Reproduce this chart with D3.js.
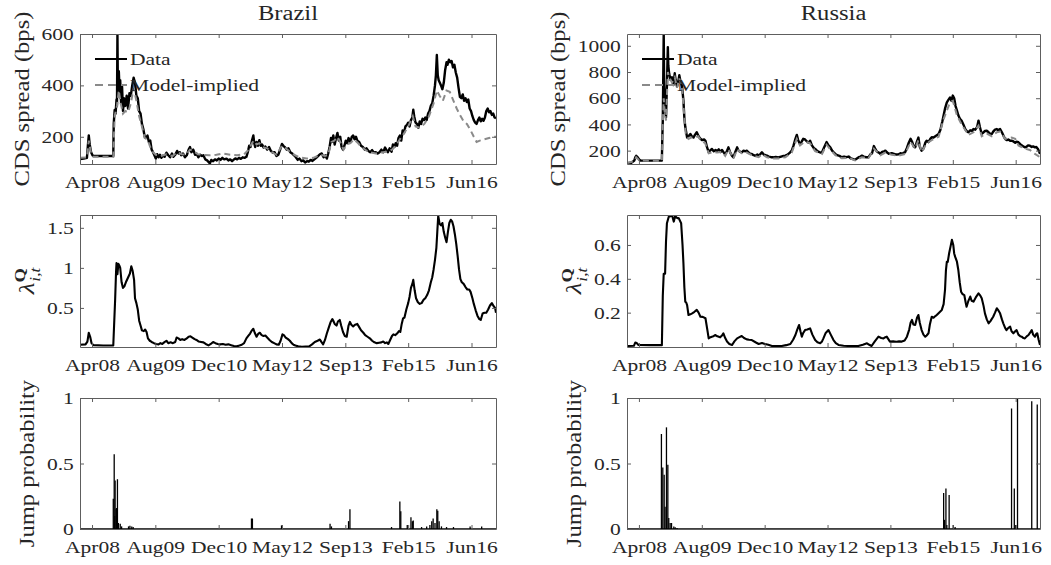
<!DOCTYPE html>
<html>
<head>
<meta charset="utf-8">
<script src="https://cdnjs.cloudflare.com/ajax/libs/d3/7.8.5/d3.min.js"></script>
<style>
body { margin: 0; background: #fff; }
text { font-family: "Liberation Serif", "Times New Roman", serif; fill: #262626; }
</style>
</head>
<body>
<div id="chart"></div>
<script>
// data: [decimal year, value]
const countries = ["Brazil", "Russia"];
const tickYears = [2008.26, 2009.63, 2011.0, 2012.37, 2013.74, 2015.10, 2016.47];
const tickLabels = ["Apr08", "Aug09", "Dec10", "May12", "Sep13", "Feb15", "Jun16"];

const brazilCds = [[2008.00,113],[2008.08,115],[2008.15,118],[2008.17,165],[2008.19,205],[2008.21,170],[2008.24,140],[2008.27,128],[2008.29,125],[2008.72,125],
  [2008.73,250],[2008.75,304],[2008.77,290],[2008.79,345],[2008.80,320],[2008.81,600],[2008.82,380],[2008.84,455],[2008.86,360],[2008.87,420],
  [2008.89,330],[2008.91,395],[2008.93,300],[2008.95,350],[2008.98,320],[2009.01,360],[2009.04,310],[2009.07,370],[2009.10,360],[2009.13,400],
  [2009.16,430],[2009.19,410],[2009.22,360],[2009.25,350],[2009.28,300],[2009.31,290],[2009.34,250],[2009.37,230],[2009.40,200],[2009.43,195],
  [2009.46,205],[2009.49,180],[2009.52,185],[2009.55,150],[2009.58,140],[2009.61,128],[2009.64,115],[2009.67,132],[2009.70,120],[2009.73,130],
  [2009.76,118],[2009.79,126],[2009.83,122],[2009.87,138],[2009.91,128],[2009.95,120],[2009.99,135],[2010.02,122],[2010.06,130],[2010.10,145],
  [2010.13,135],[2010.16,140],[2010.19,128],[2010.23,135],[2010.27,120],[2010.31,128],[2010.35,150],[2010.38,160],[2010.41,140],[2010.45,150],
  [2010.49,130],[2010.52,135],[2010.56,120],[2010.60,130],[2010.64,125],[2010.67,128],[2010.71,112],[2010.75,108],[2010.79,100],[2010.81,96],
  [2010.84,110],[2010.88,105],[2010.92,112],[2010.96,108],[2011.00,115],[2011.04,110],[2011.08,118],[2011.12,112],[2011.17,115],[2011.21,108],
  [2011.25,112],[2011.29,105],[2011.32,110],[2011.36,116],[2011.40,112],[2011.44,118],[2011.48,114],[2011.52,120],[2011.56,118],[2011.60,122],
  [2011.63,140],[2011.66,165],[2011.69,160],[2011.72,185],[2011.75,205],[2011.77,175],[2011.79,160],[2011.82,180],[2011.85,165],[2011.88,187],
  [2011.91,165],[2011.94,170],[2011.97,158],[2012.01,162],[2012.05,150],[2012.09,160],[2012.13,145],[2012.17,138],[2012.21,140],[2012.25,125],
  [2012.29,130],[2012.33,150],[2012.37,172],[2012.40,165],[2012.43,160],[2012.47,150],[2012.51,155],[2012.55,140],[2012.59,135],[2012.63,128],
  [2012.67,120],[2012.71,110],[2012.75,115],[2012.79,105],[2012.83,108],[2012.87,100],[2012.91,105],[2012.95,103],[2012.99,110],[2013.03,106],
  [2013.07,112],[2013.11,118],[2013.15,125],[2013.19,132],[2013.23,135],[2013.27,120],[2013.31,128],[2013.34,115],[2013.37,135],[2013.40,160],
  [2013.43,195],[2013.45,180],[2013.48,205],[2013.51,170],[2013.54,195],[2013.57,215],[2013.60,185],[2013.63,200],[2013.66,160],[2013.69,150],
  [2013.72,165],[2013.75,185],[2013.78,175],[2013.81,195],[2013.85,180],[2013.88,200],[2013.91,205],[2013.94,190],[2013.97,200],[2014.00,185],
  [2014.04,180],[2014.08,165],[2014.12,160],[2014.16,150],[2014.20,155],[2014.24,145],[2014.28,140],[2014.32,148],[2014.36,138],[2014.40,140],
  [2014.44,135],[2014.48,140],[2014.52,150],[2014.56,140],[2014.60,158],[2014.63,148],[2014.66,140],[2014.70,155],[2014.74,142],[2014.77,170],
  [2014.80,160],[2014.83,175],[2014.86,165],[2014.89,195],[2014.92,205],[2014.95,185],[2014.98,225],[2015.01,215],[2015.04,240],[2015.07,245],
  [2015.10,255],[2015.13,240],[2015.16,265],[2015.19,275],[2015.21,305],[2015.23,280],[2015.26,255],[2015.29,250],[2015.32,235],[2015.35,260],
  [2015.38,250],[2015.41,270],[2015.44,265],[2015.47,275],[2015.50,265],[2015.53,290],[2015.56,300],[2015.59,320],[2015.62,330],[2015.65,360],
  [2015.68,400],[2015.70,440],[2015.72,518],[2015.74,440],[2015.76,420],[2015.79,408],[2015.81,400],[2015.84,385],[2015.87,410],[2015.90,460],
  [2015.93,490],[2015.95,480],[2015.98,500],[2016.01,490],[2016.04,495],[2016.07,470],[2016.10,480],[2016.13,450],[2016.16,430],[2016.19,390],
  [2016.22,355],[2016.25,350],[2016.28,365],[2016.31,340],[2016.34,350],[2016.37,335],[2016.40,345],[2016.43,310],[2016.46,300],[2016.49,280],
  [2016.52,265],[2016.55,255],[2016.58,250],[2016.61,265],[2016.64,275],[2016.67,260],[2016.70,270],[2016.73,262],[2016.76,275],[2016.79,300],
  [2016.82,310],[2016.85,295],[2016.88,300],[2016.91,285],[2016.94,290],[2016.97,275],[2017.00,272]];

const brazilModel = [[2008.00,118],[2008.15,120],[2008.19,185],[2008.24,135],[2008.29,122],[2008.72,122],[2008.75,280],[2008.80,320],[2008.84,380],
  [2008.88,330],[2008.93,290],[2008.98,300],[2009.04,295],[2009.10,330],[2009.16,390],[2009.22,340],[2009.28,280],[2009.34,240],[2009.40,195],
  [2009.46,190],[2009.52,160],[2009.58,140],[2009.64,130],[2009.75,125],[2009.87,132],[2010.00,125],[2010.10,140],[2010.20,132],[2010.30,130],
  [2010.38,150],[2010.45,145],[2010.55,132],[2010.65,130],[2010.80,128],[2010.95,130],[2011.10,135],[2011.25,130],[2011.40,128],[2011.55,132],
  [2011.65,150],[2011.72,175],[2011.76,185],[2011.82,170],[2011.88,175],[2011.95,160],[2012.05,155],[2012.15,140],[2012.25,130],[2012.37,165],
  [2012.45,155],[2012.55,140],[2012.65,128],[2012.75,120],[2012.90,115],[2013.05,118],[2013.20,130],[2013.30,125],[2013.37,130],[2013.44,180],
  [2013.50,185],[2013.57,200],[2013.63,180],[2013.70,150],[2013.78,170],[2013.85,175],[2013.93,190],[2014.00,178],[2014.10,158],[2014.25,140],
  [2014.40,135],[2014.55,140],[2014.65,142],[2014.75,150],[2014.85,170],[2014.92,190],[2015.00,210],[2015.10,240],[2015.20,280],[2015.26,240],
  [2015.35,235],[2015.45,250],[2015.55,280],[2015.65,330],[2015.72,380],[2015.78,360],[2015.85,340],[2015.93,380],[2016.00,375],[2016.08,340],
  [2016.15,310],[2016.22,285],[2016.30,260],[2016.37,250],[2016.45,225],[2016.52,200],[2016.58,180],[2016.65,185],[2016.75,190],[2016.85,195],
  [2016.95,200],[2017.00,200]];

const brazilLambda = [[2008.00,0.04],[2008.12,0.045],[2008.16,0.08],[2008.19,0.19],[2008.22,0.14],[2008.25,0.06],[2008.29,0.035],[2008.50,0.03],
  [2008.72,0.03],[2008.76,0.60],[2008.78,0.95],[2008.79,1.06],[2008.81,0.92],[2008.83,1.05],[2008.85,1.03],[2008.87,1.00],[2008.90,0.82],
  [2008.93,0.75],[2008.96,0.77],[2009.00,0.83],[2009.04,0.88],[2009.08,0.93],[2009.11,1.02],[2009.14,0.96],[2009.17,0.85],[2009.19,0.62],
  [2009.22,0.56],[2009.25,0.48],[2009.28,0.34],[2009.31,0.28],[2009.34,0.22],[2009.38,0.21],[2009.41,0.23],[2009.44,0.20],[2009.47,0.12],
  [2009.51,0.09],[2009.55,0.075],[2009.60,0.06],[2009.65,0.05],[2009.70,0.045],[2009.74,0.06],[2009.78,0.05],[2009.82,0.07],[2009.87,0.09],
  [2009.91,0.06],[2009.96,0.07],[2010.01,0.06],[2010.06,0.075],[2010.09,0.13],[2010.13,0.12],[2010.17,0.10],[2010.21,0.11],[2010.26,0.10],
  [2010.31,0.12],[2010.35,0.14],[2010.39,0.145],[2010.43,0.13],[2010.48,0.11],[2010.52,0.10],[2010.57,0.08],[2010.62,0.075],[2010.67,0.07],
  [2010.72,0.05],[2010.78,0.033],[2010.83,0.05],[2010.88,0.075],[2010.93,0.06],[2010.98,0.05],[2011.03,0.045],[2011.09,0.05],[2011.15,0.04],
  [2011.21,0.045],[2011.27,0.035],[2011.33,0.025],[2011.39,0.02],[2011.45,0.03],[2011.50,0.04],[2011.55,0.06],[2011.60,0.12],[2011.64,0.15],
  [2011.68,0.18],[2011.72,0.22],[2011.75,0.24],[2011.78,0.19],[2011.82,0.14],[2011.86,0.18],[2011.89,0.19],[2011.93,0.16],[2011.97,0.15],
  [2012.01,0.155],[2012.05,0.13],[2012.10,0.10],[2012.15,0.075],[2012.20,0.06],[2012.25,0.045],[2012.30,0.04],[2012.34,0.09],[2012.38,0.17],
  [2012.41,0.16],[2012.45,0.13],[2012.50,0.11],[2012.54,0.09],[2012.58,0.06],[2012.62,0.04],[2012.66,0.03],[2012.72,0.02],[2012.80,0.015],
  [2012.88,0.018],[2012.96,0.02],[2013.02,0.045],[2013.08,0.075],[2013.14,0.09],[2013.19,0.105],[2013.23,0.07],[2013.26,0.045],[2013.30,0.10],
  [2013.34,0.18],[2013.38,0.25],[2013.42,0.32],[2013.46,0.36],[2013.48,0.34],[2013.51,0.30],[2013.55,0.28],[2013.58,0.33],[2013.62,0.35],
  [2013.65,0.28],[2013.69,0.20],[2013.73,0.15],[2013.77,0.14],[2013.81,0.28],[2013.84,0.325],[2013.87,0.29],[2013.91,0.27],[2013.95,0.29],
  [2014.00,0.30],[2014.04,0.26],[2014.08,0.22],[2014.13,0.19],[2014.17,0.16],[2014.22,0.14],[2014.27,0.12],[2014.32,0.09],[2014.37,0.07],
  [2014.42,0.06],[2014.47,0.065],[2014.52,0.07],[2014.56,0.08],[2014.60,0.06],[2014.64,0.07],[2014.67,0.05],[2014.71,0.10],[2014.75,0.15],
  [2014.78,0.17],[2014.82,0.16],[2014.86,0.18],[2014.90,0.21],[2014.93,0.20],[2014.96,0.30],[2014.99,0.37],[2015.02,0.38],[2015.06,0.48],
  [2015.10,0.56],[2015.13,0.64],[2015.16,0.75],[2015.19,0.80],[2015.21,0.85],[2015.24,0.72],[2015.27,0.62],[2015.31,0.57],[2015.35,0.55],
  [2015.39,0.56],[2015.43,0.60],[2015.47,0.62],[2015.51,0.66],[2015.55,0.72],[2015.59,0.82],[2015.62,0.88],[2015.65,0.98],[2015.68,1.10],
  [2015.71,1.25],[2015.73,1.45],[2015.75,1.65],[2015.78,1.55],[2015.81,1.53],[2015.84,1.56],[2015.87,1.45],[2015.90,1.38],[2015.93,1.32],
  [2015.96,1.45],[2015.99,1.56],[2016.02,1.60],[2016.05,1.58],[2016.08,1.52],[2016.11,1.42],[2016.14,1.30],[2016.17,1.15],[2016.20,0.98],
  [2016.23,0.86],[2016.26,0.82],[2016.30,0.80],[2016.34,0.76],[2016.38,0.73],[2016.42,0.73],[2016.45,0.70],[2016.49,0.62],[2016.52,0.55],
  [2016.56,0.47],[2016.60,0.40],[2016.64,0.36],[2016.67,0.35],[2016.71,0.43],[2016.75,0.44],[2016.79,0.44],[2016.83,0.48],[2016.87,0.53],
  [2016.91,0.56],[2016.95,0.52],[2016.98,0.50],[2017.00,0.44]];

const brazilJump = [[2008.72,0.23],[2008.74,0.57],[2008.75,0.10],[2008.76,0.37],[2008.78,0.15],[2008.79,0.16],[2008.81,0.38],[2008.83,0.046],
  [2008.87,0.04],[2008.90,0.02],[2009.05,0.02],[2009.08,0.025],[2009.12,0.02],[2009.15,0.015],[2011.71,0.08],[2011.73,0.08],[2012.36,0.028],
  [2013.41,0.04],[2013.44,0.02],[2013.81,0.06],[2013.84,0.15],[2014.74,0.015],[2014.92,0.21],[2014.94,0.135],[2015.08,0.03],[2015.16,0.09],
  [2015.19,0.06],[2015.21,0.065],[2015.39,0.015],[2015.50,0.02],[2015.57,0.03],[2015.61,0.06],[2015.64,0.08],[2015.68,0.045],[2015.72,0.15],
  [2015.74,0.14],[2015.77,0.06],[2015.82,0.02],[2015.93,0.015],[2016.08,0.015],[2016.44,0.02],[2016.69,0.02]];

const russiaCds = [[2008.00,105],[2008.10,108],[2008.16,125],[2008.18,148],[2008.20,160],[2008.23,150],[2008.27,130],[2008.30,124],[2008.76,124],
  [2008.77,300],[2008.78,430],[2008.80,1089],[2008.81,700],[2008.82,632],[2008.84,500],[2008.85,454],[2008.87,700],[2008.89,990],[2008.90,850],
  [2008.92,784],[2008.95,740],[2008.98,760],[2009.01,700],[2009.04,790],[2009.06,740],[2009.09,690],[2009.12,730],[2009.14,775],[2009.17,720],
  [2009.20,690],[2009.23,580],[2009.25,450],[2009.27,380],[2009.29,340],[2009.31,300],[2009.34,310],[2009.38,327],[2009.41,310],[2009.45,300],
  [2009.48,320],[2009.52,340],[2009.56,310],[2009.60,290],[2009.64,280],[2009.68,285],[2009.71,275],[2009.74,230],[2009.78,188],[2009.81,200],
  [2009.85,213],[2009.89,195],[2009.93,205],[2009.96,195],[2010.00,210],[2010.04,190],[2010.07,205],[2010.11,185],[2010.14,170],[2010.18,200],
  [2010.21,225],[2010.25,185],[2010.29,160],[2010.32,149],[2010.36,190],[2010.40,225],[2010.43,200],[2010.47,190],[2010.50,187],[2010.54,200],
  [2010.58,195],[2010.61,200],[2010.65,185],[2010.69,175],[2010.72,175],[2010.76,165],[2010.80,160],[2010.84,170],[2010.87,162],[2010.91,175],
  [2010.94,187],[2010.98,170],[2011.02,165],[2011.05,162],[2011.09,155],[2011.14,150],[2011.19,149],[2011.24,152],[2011.30,148],[2011.36,155],
  [2011.41,160],[2011.45,162],[2011.50,170],[2011.55,185],[2011.59,200],[2011.63,240],[2011.67,290],[2011.70,320],[2011.73,280],[2011.77,250],
  [2011.80,265],[2011.84,290],[2011.88,285],[2011.92,270],[2011.96,260],[2011.99,276],[2012.03,240],[2012.07,220],[2012.10,213],[2012.14,200],
  [2012.18,190],[2012.22,185],[2012.25,187],[2012.29,220],[2012.33,250],[2012.35,265],[2012.39,240],[2012.43,225],[2012.47,200],[2012.51,185],
  [2012.54,175],[2012.58,165],[2012.63,160],[2012.68,150],[2012.73,155],[2012.78,150],[2012.83,155],[2012.88,140],[2012.93,135],[2012.97,130],
  [2013.01,140],[2013.05,150],[2013.09,155],[2013.12,162],[2013.16,155],[2013.20,150],[2013.26,149],[2013.30,170],[2013.34,180],[2013.38,235],
  [2013.41,213],[2013.45,190],[2013.49,185],[2013.52,175],[2013.56,190],[2013.60,195],[2013.63,200],[2013.67,185],[2013.71,175],[2013.77,180],
  [2013.82,175],[2013.87,170],[2013.92,172],[2013.96,180],[2014.00,175],[2014.03,185],[2014.06,187],[2014.10,220],[2014.14,260],[2014.18,290],
  [2014.21,270],[2014.25,230],[2014.28,225],[2014.31,260],[2014.35,300],[2014.38,230],[2014.42,200],[2014.46,215],[2014.50,260],[2014.53,276],
  [2014.57,265],[2014.61,290],[2014.64,302],[2014.68,300],[2014.72,310],[2014.76,320],[2014.79,327],[2014.83,360],[2014.87,420],[2014.90,470],
  [2014.93,520],[2014.97,568],[2015.00,585],[2015.04,606],[2015.07,580],[2015.10,620],[2015.13,600],[2015.16,540],[2015.19,505],[2015.22,470],
  [2015.26,440],[2015.29,429],[2015.33,400],[2015.37,365],[2015.40,350],[2015.44,340],[2015.48,355],[2015.52,350],[2015.55,365],[2015.59,360],
  [2015.63,380],[2015.66,429],[2015.69,380],[2015.73,327],[2015.77,340],[2015.80,350],[2015.84,352],[2015.88,340],[2015.91,330],[2015.95,327],
  [2015.98,345],[2016.02,360],[2016.06,365],[2016.09,355],[2016.13,365],[2016.17,340],[2016.21,310],[2016.24,289],[2016.28,280],[2016.31,285],
  [2016.35,275],[2016.38,276],[2016.42,270],[2016.46,260],[2016.49,268],[2016.53,264],[2016.57,250],[2016.60,240],[2016.64,232],[2016.67,225],
  [2016.71,230],[2016.74,240],[2016.78,238],[2016.82,228],[2016.85,232],[2016.89,225],[2016.92,228],[2016.95,215],[2016.98,195],[2017.00,175]];

const russiaModel = [[2008.00,105],[2008.16,120],[2008.20,150],[2008.27,125],[2008.76,120],[2008.78,400],[2008.80,600],[2008.82,500],[2008.85,430],
  [2008.89,800],[2008.92,760],[2008.98,720],[2009.04,760],[2009.09,680],[2009.14,750],[2009.20,670],[2009.24,500],[2009.28,330],[2009.34,290],
  [2009.40,300],[2009.48,300],[2009.55,310],[2009.62,270],[2009.70,260],[2009.78,180],[2009.88,190],[2009.96,185],[2010.07,190],[2010.14,160],
  [2010.21,210],[2010.32,140],[2010.40,210],[2010.50,180],[2010.61,185],[2010.72,165],[2010.87,150],[2010.94,172],[2011.05,150],[2011.19,140],
  [2011.30,140],[2011.45,150],[2011.59,185],[2011.70,290],[2011.77,240],[2011.88,270],[2011.99,255],[2012.10,195],[2012.25,175],[2012.35,245],
  [2012.43,210],[2012.54,165],[2012.68,142],[2012.83,145],[2012.97,125],[2013.12,150],[2013.26,140],[2013.38,215],[2013.52,165],[2013.63,185],
  [2013.77,168],[2013.92,162],[2014.06,175],[2014.18,265],[2014.28,215],[2014.35,280],[2014.42,190],[2014.53,255],[2014.64,280],[2014.79,305],
  [2014.90,440],[2015.04,570],[2015.10,580],[2015.19,470],[2015.29,400],[2015.44,320],[2015.55,340],[2015.66,390],[2015.73,310],[2015.84,330],
  [2015.95,310],[2016.06,340],[2016.13,345],[2016.24,290],[2016.38,300],[2016.46,290],[2016.53,240],[2016.67,215],[2016.78,205],[2016.89,175],
  [2017.00,150]];

const russiaLambda = [[2008.00,0.003],[2008.15,0.004],[2008.18,0.023],[2008.21,0.02],[2008.25,0.009],[2008.50,0.008],[2008.76,0.008],[2008.78,0.30],
  [2008.80,0.43],[2008.83,0.43],[2008.85,0.62],[2008.87,0.728],[2008.91,0.767],[2008.95,0.77],[2008.98,0.777],[2009.02,0.738],[2009.05,0.771],
  [2009.09,0.76],[2009.13,0.757],[2009.18,0.728],[2009.21,0.60],[2009.23,0.49],[2009.25,0.35],[2009.27,0.265],[2009.29,0.26],[2009.31,0.245],
  [2009.34,0.186],[2009.38,0.19],[2009.42,0.196],[2009.47,0.205],[2009.52,0.216],[2009.56,0.20],[2009.60,0.176],[2009.65,0.175],[2009.71,0.167],
  [2009.75,0.10],[2009.78,0.048],[2009.82,0.055],[2009.85,0.058],[2009.88,0.06],[2009.92,0.068],[2009.97,0.06],[2010.03,0.054],[2010.07,0.065],
  [2010.10,0.078],[2010.14,0.05],[2010.18,0.029],[2010.23,0.015],[2010.29,0.009],[2010.34,0.03],[2010.40,0.048],[2010.45,0.055],[2010.50,0.062],
  [2010.55,0.05],[2010.61,0.042],[2010.66,0.04],[2010.72,0.038],[2010.80,0.025],[2010.87,0.015],[2010.94,0.02],[2011.01,0.015],[2011.08,0.01],
  [2011.16,0.003],[2011.26,0.003],[2011.37,0.003],[2011.47,0.008],[2011.56,0.015],[2011.62,0.04],[2011.67,0.068],[2011.71,0.10],[2011.75,0.127],
  [2011.78,0.09],[2011.81,0.058],[2011.84,0.08],[2011.88,0.097],[2011.93,0.10],[2011.99,0.107],[2012.04,0.07],[2012.10,0.038],[2012.15,0.025],
  [2012.21,0.019],[2012.25,0.03],[2012.28,0.048],[2012.33,0.08],[2012.39,0.097],[2012.44,0.07],[2012.50,0.038],[2012.55,0.02],[2012.61,0.009],
  [2012.72,0.004],[2012.83,0.003],[2012.94,0.003],[2013.04,0.003],[2013.14,0.01],[2013.23,0.019],[2013.28,0.01],[2013.33,0.003],[2013.40,0.03],
  [2013.48,0.058],[2013.54,0.05],[2013.59,0.048],[2013.63,0.055],[2013.66,0.058],[2013.73,0.029],[2013.80,0.03],[2013.87,0.028],[2013.93,0.03],
  [2013.99,0.029],[2014.05,0.035],[2014.10,0.058],[2014.15,0.10],[2014.18,0.14],[2014.21,0.157],[2014.24,0.13],[2014.28,0.127],[2014.32,0.17],
  [2014.35,0.186],[2014.38,0.14],[2014.42,0.097],[2014.46,0.07],[2014.50,0.058],[2014.53,0.065],[2014.57,0.078],[2014.60,0.13],[2014.64,0.176],
  [2014.68,0.17],[2014.72,0.18],[2014.75,0.186],[2014.80,0.20],[2014.86,0.216],[2014.90,0.25],[2014.93,0.334],[2014.95,0.45],[2014.97,0.501],
  [2014.99,0.50],[2015.02,0.551],[2015.05,0.59],[2015.08,0.630],[2015.11,0.60],[2015.13,0.55],[2015.15,0.531],[2015.19,0.501],[2015.22,0.452],
  [2015.25,0.38],[2015.28,0.324],[2015.31,0.31],[2015.35,0.304],[2015.38,0.26],[2015.40,0.235],[2015.44,0.27],[2015.48,0.295],[2015.51,0.27],
  [2015.55,0.265],[2015.60,0.29],[2015.66,0.314],[2015.70,0.30],[2015.73,0.285],[2015.77,0.24],[2015.80,0.196],[2015.84,0.16],[2015.88,0.137],
  [2015.92,0.15],[2015.98,0.176],[2016.02,0.20],[2016.06,0.226],[2016.10,0.21],[2016.13,0.196],[2016.17,0.16],[2016.20,0.137],[2016.24,0.11],
  [2016.27,0.097],[2016.31,0.11],[2016.35,0.117],[2016.38,0.09],[2016.42,0.078],[2016.46,0.09],[2016.49,0.097],[2016.53,0.07],[2016.57,0.06],
  [2016.60,0.058],[2016.64,0.05],[2016.67,0.048],[2016.71,0.06],[2016.75,0.068],[2016.78,0.08],[2016.82,0.097],[2016.85,0.07],[2016.89,0.058],
  [2016.92,0.075],[2016.94,0.078],[2016.97,0.04],[2017.00,0.009]];

const russiaJump = [[2008.75,0.725],[2008.78,0.47],[2008.81,0.415],[2008.83,0.17],[2008.86,0.776],[2008.89,0.49],[2008.91,0.084],[2008.94,0.046],
  [2008.97,0.046],[2009.02,0.02],[2009.05,0.013],[2009.09,0.008],[2014.90,0.275],[2014.92,0.07],[2014.95,0.31],[2014.97,0.03],[2015.02,0.26],
  [2015.11,0.03],[2015.15,0.015],[2016.38,0.92],[2016.44,0.31],[2016.47,0.03],[2016.51,0.995],[2016.82,0.975],[2016.94,0.95]];

const cdsTicks = [[200, 400, 600], [200, 400, 600, 800, 1000]];
const lambdaTicks = [[0.5, 1, 1.5], [0.2, 0.4, 0.6]];
const jumpTicks = [0, 0.5, 1];
const legendNames = ["Data", "Model-implied"];

// layout
const W = 1051, H = 565;
const cols = [{left: 80, right: 496}, {left: 627, right: 1040}];
const rows = [{top: 34, bottom: 164}, {top: 215, bottom: 347}, {top: 398, bottom: 529}];
const SX = 1.23;   // the figure's lettering is wide, stretch the text a bit
const xDomain = [2008, 2017];

const svg = d3.select("#chart").append("svg").attr("width", W).attr("height", H);

function panel(ci, ri, yDomain, yTicks, marks, label) {
    const c = cols[ci], r = rows[ri];
    const x = d3.scaleLinear().domain(xDomain).range([c.left, c.right]);
    const y = d3.scaleLinear().domain(yDomain).range([r.bottom, r.top]);

    const id = `clip-${ci}-${ri}`;
    svg.append("clipPath").attr("id", id).append("rect")
        .attr("x", c.left).attr("y", r.top).attr("width", c.right - c.left).attr("height", r.bottom - r.top);
    const g = svg.append("g").attr("clip-path", `url(#${id})`);
    marks(g, x, y);

    // box with inward ticks like matlab
    const ax = svg.append("g");
    ax.append("g").attr("transform", `translate(0,${r.bottom})`)
        .call(d3.axisBottom(x).tickValues(tickYears).tickFormat((d, i) => tickLabels[i]).tickSizeInner(-4).tickSizeOuter(0).tickPadding(12));
    ax.append("g").attr("transform", `translate(0,${r.top})`)
        .call(d3.axisTop(x).tickValues(tickYears).tickFormat("").tickSizeInner(-4).tickSizeOuter(0));
    const yl = ax.append("g").attr("transform", `translate(${c.left},0)`)
        .call(d3.axisLeft(y).tickValues(yTicks).tickFormat(d3.format("~g")).tickSizeInner(-4).tickSizeOuter(0).tickPadding(5));
    ax.append("g").attr("transform", `translate(${c.right},0)`)
        .call(d3.axisRight(y).tickValues(yTicks).tickFormat("").tickSizeInner(-4).tickSizeOuter(0));
    ax.selectAll("path.domain, line").attr("stroke", "#5e5e5e").attr("stroke-width", 1);
    ax.selectAll("text").attr("fill", "#262626").style("font-size", "17.5px").attr("transform", `scale(${SX},1)`);

    // y label sits left of the tick labels
    const bb = yl.node().getBBox();
    const lx = c.left + bb.x - 13;
    const ly = (r.top + r.bottom) / 2;
    const t = svg.append("text")
        .attr("transform", `translate(${lx},${ly}) rotate(-90) scale(${SX},1)`)
        .attr("text-anchor", "middle")
        .style("font-size", "20px");
    label(t);
    return {x, y, c, r};
}

const line = (x, y) => d3.line().x(d => x(d[0])).y(d => y(d[1]));

function cdsMarks(data, model) {
    return (g, x, y) => {
        g.append("path").datum(data).attr("d", line(x, y))
            .attr("fill", "none").attr("stroke", "#000").attr("stroke-width", 2.4).attr("stroke-linejoin", "round");
        g.append("path").datum(model).attr("d", line(x, y))
            .attr("fill", "none").attr("stroke", "#8a8a8a").attr("stroke-width", 2).attr("stroke-dasharray", "6,4");
    };
}

function lambdaMarks(data) {
    return (g, x, y) => {
        g.append("path").datum(data).attr("d", line(x, y))
            .attr("fill", "none").attr("stroke", "#000").attr("stroke-width", 2.1).attr("stroke-linejoin", "round");
    };
}

function jumpMarks(data) {
    return (g, x, y) => {
        g.append("line").attr("x1", x(xDomain[0])).attr("x2", x(xDomain[1]))
            .attr("y1", y(0)).attr("y2", y(0)).attr("stroke", "#000").attr("stroke-width", 1.5);
        g.selectAll("line.spike").data(data).join("line").attr("class", "spike")
            .attr("x1", d => x(d[0])).attr("x2", d => x(d[0]))
            .attr("y1", y(0)).attr("y2", d => y(d[1]))
            .attr("stroke", "#000").attr("stroke-width", 1.3);
    };
}

const cdsLabel = t => t.text("CDS spread (bps)");
const lambdaLabel = t => {
    t.append("tspan").style("font-style", "italic").style("font-size", "22px").text("λ");
    t.append("tspan").attr("dy", -9).style("font-size", "15px").style("font-weight", "bold").text("Q");
    t.append("tspan").attr("dx", -11).attr("dy", 15).style("font-size", "14px").style("font-style", "italic").text("i,t");
};
const jumpLabel = t => t.text("Jump probability");

const series = [
    {cds: brazilCds, model: brazilModel, lambda: brazilLambda, jump: brazilJump, cdsDom: [94, 600], lamDom: [0.012, 1.66]},
    {cds: russiaCds, model: russiaModel, lambda: russiaLambda, jump: russiaJump, cdsDom: [98, 1090], lamDom: [-0.003, 0.777]}
];

series.forEach((s, i) => {
    const p = panel(i, 0, s.cdsDom, cdsTicks[i], cdsMarks(s.cds, s.model), cdsLabel);
    panel(i, 1, s.lamDom, lambdaTicks[i], lambdaMarks(s.lambda), lambdaLabel);
    panel(i, 2, [0, 1], jumpTicks, jumpMarks(s.jump), jumpLabel);

    // title
    svg.append("text")
        .attr("transform", `translate(${(p.c.left + p.c.right) / 2},${20}) scale(${SX},1)`)
        .attr("text-anchor", "middle").style("font-size", "20px").text(countries[i]);

    // legend, no box
    const lg = svg.append("g");
    legendNames.forEach((name, k) => {
        const ly = p.r.top + 25 + k * 26;
        lg.append("line").attr("x1", p.c.left + 15).attr("x2", p.c.left + 47).attr("y1", ly).attr("y2", ly)
            .attr("stroke", k === 0 ? "#000" : "#8a8a8a").attr("stroke-width", 2)
            .attr("stroke-dasharray", k === 0 ? null : "8,5");
        lg.append("text").attr("transform", `translate(${p.c.left + 50},${ly + 6}) scale(${SX},1)`)
            .style("font-size", "17.5px").text(name);
    });
});
</script>
</body>
</html>
